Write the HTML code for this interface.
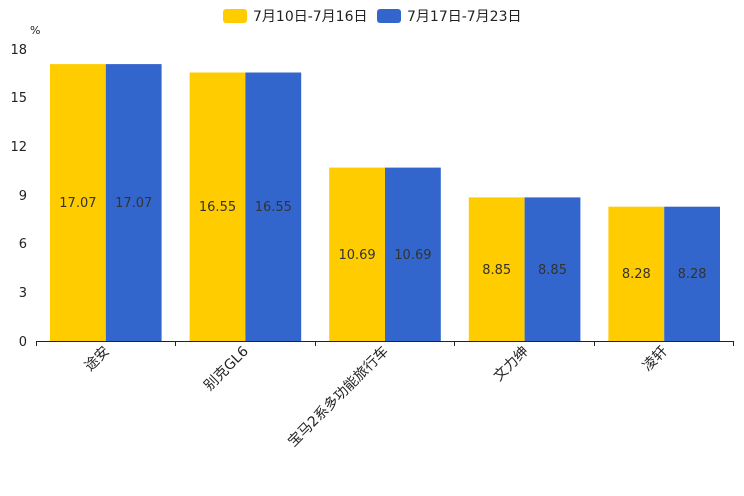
<!DOCTYPE html>
<html><head><meta charset="utf-8"><style>body{margin:0;background:#fff}svg{display:block}text{font-family:"DejaVu Sans","Noto Sans CJK SC",sans-serif}</style></head><body>
<svg width="744" height="496" xmlns="http://www.w3.org/2000/svg">
<rect x="223" y="9" width="24" height="14" rx="3" fill="#ffcc00"/>
<text x="253" y="21" font-size="14" fill="#222">7月10日-7月16日</text>
<rect x="377" y="9" width="24" height="14" rx="3" fill="#3366cc"/>
<text x="407" y="21" font-size="14" fill="#222">7月17日-7月23日</text>
<text x="30" y="34" font-size="11" fill="#222">%</text>
<g font-size="13" fill="#222" text-anchor="end">
<text x="27" y="54">18</text><text x="27" y="102">15</text><text x="27" y="151">12</text><text x="27" y="200">9</text><text x="27" y="248">6</text><text x="27" y="297">3</text><text x="27" y="346">0</text>
</g>
<g>
<rect x="50" y="64.1" width="55.8" height="276.9" fill="#ffcc00"/><rect x="105.8" y="64.1" width="55.8" height="276.9" fill="#3366cc"/>
<rect x="189.6" y="72.5" width="55.8" height="268.5" fill="#ffcc00"/><rect x="245.4" y="72.5" width="55.8" height="268.5" fill="#3366cc"/>
<rect x="329.2" y="167.6" width="55.8" height="173.4" fill="#ffcc00"/><rect x="385" y="167.6" width="55.8" height="173.4" fill="#3366cc"/>
<rect x="468.8" y="197.4" width="55.8" height="143.6" fill="#ffcc00"/><rect x="524.6" y="197.4" width="55.8" height="143.6" fill="#3366cc"/>
<rect x="608.4" y="206.7" width="55.8" height="134.3" fill="#ffcc00"/><rect x="664.2" y="206.7" width="55.8" height="134.3" fill="#3366cc"/>
</g>
<g font-size="13" fill="#333" text-anchor="middle">
<text x="77.9" y="207">17.07</text><text x="133.7" y="207">17.07</text>
<text x="217.5" y="211">16.55</text><text x="273.3" y="211">16.55</text>
<text x="357.1" y="259">10.69</text><text x="412.9" y="259">10.69</text>
<text x="496.7" y="274">8.85</text><text x="552.5" y="274">8.85</text>
<text x="636.3" y="278">8.28</text><text x="692.1" y="278">8.28</text>
</g>
<line x1="36" y1="341.5" x2="734" y2="341.5" stroke="#222" stroke-width="1"/>
<g stroke="#222"><line x1="36.5" y1="341" x2="36.5" y2="346"/><line x1="175.5" y1="341" x2="175.5" y2="346"/><line x1="315.5" y1="341" x2="315.5" y2="346"/><line x1="454.5" y1="341" x2="454.5" y2="346"/><line x1="594.5" y1="341" x2="594.5" y2="346"/><line x1="733.5" y1="341" x2="733.5" y2="346"/></g>
<g font-size="14" fill="#222" text-anchor="end">
<text transform="translate(110,352) rotate(-45)">途安</text>
<text transform="translate(249,352) rotate(-45)">别克GL6</text>
<text transform="translate(389,352) rotate(-45)">宝马2系多功能旅行车</text>
<text transform="translate(529,352) rotate(-45)">文力绅</text>
<text transform="translate(668,352) rotate(-45)">凌轩</text>
</g>
</svg>
</body></html>
